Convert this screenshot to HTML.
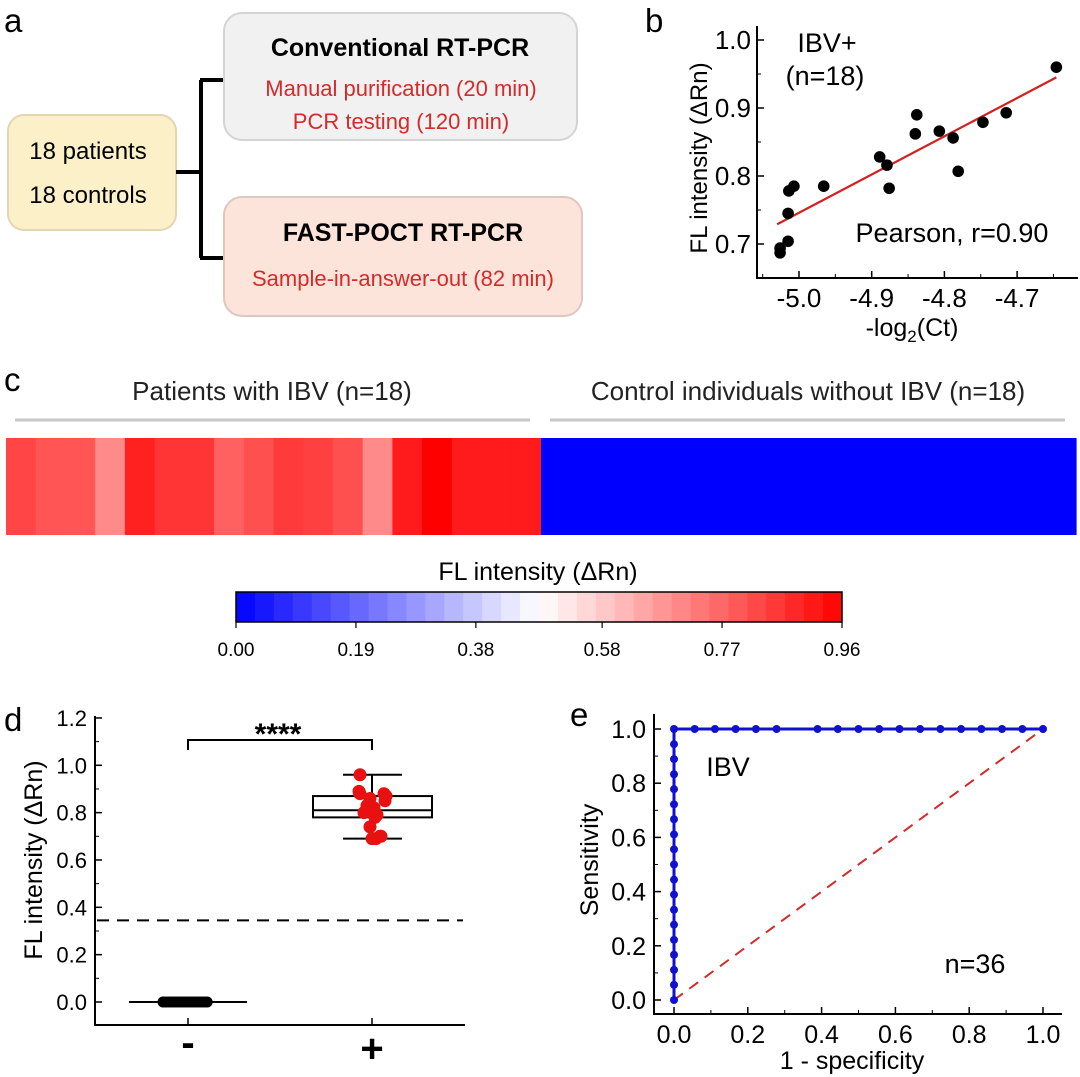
<!DOCTYPE html>
<html><head><meta charset="utf-8"><style>
html,body{margin:0;padding:0;background:#fff;}
svg{display:block;font-family:"Liberation Sans",Arial,sans-serif;}
</style></head><body>
<svg id="fig" width="1080" height="1077" viewBox="0 0 1080 1077" xmlns="http://www.w3.org/2000/svg">
<g>
<text x="4" y="32" font-size="33">a</text>
<rect x="8" y="115" width="168" height="115" rx="16" fill="#fcf0c8" stroke="#e2d6b4" stroke-width="2"/>
<text x="88" y="159" font-size="24" text-anchor="middle">18 patients</text>
<text x="88" y="203" font-size="24" text-anchor="middle">18 controls</text>
<path d="M176 172 H201 M201 80 V258 M200 80 H224 M200 258 H224" stroke="#000" stroke-width="4" fill="none"/>
<rect x="224" y="13" width="353" height="127" rx="18" fill="#f1f1f1" stroke="#d4d4d4" stroke-width="2"/>
<text x="400" y="56" font-size="25" font-weight="bold" text-anchor="middle">Conventional RT-PCR</text>
<text x="401" y="96" font-size="22" fill="#d42a2a" text-anchor="middle">Manual purification (20 min)</text>
<text x="401" y="129" font-size="22" fill="#d42a2a" text-anchor="middle">PCR testing (120 min)</text>
<rect x="224" y="197" width="358" height="119" rx="18" fill="#fde4da" stroke="#dcc8c0" stroke-width="2"/>
<text x="403" y="241" font-size="25" font-weight="bold" text-anchor="middle">FAST-POCT RT-PCR</text>
<text x="403" y="286" font-size="22" fill="#d42a2a" text-anchor="middle">Sample-in-answer-out (82 min)</text>
</g>
<text x="645" y="32" font-size="33">b</text>
<g id="pb"></g>
<text x="4" y="391" font-size="33">c</text>
<g id="pc"></g>
<text x="4" y="731" font-size="33">d</text>
<g id="pd"></g>
<text x="570" y="726" font-size="33">e</text>
<g id="pe"></g>
</svg>
<script>
// Panel b data
const bX = [-5.026,-5.026,-5.015,-5.015,-5.014,-5.007,-4.966,-4.889,-4.879,-4.876,-4.840,-4.838,-4.807,-4.788,-4.781,-4.747,-4.715,-4.646];
const bY = [0.687,0.694,0.704,0.745,0.778,0.785,0.785,0.828,0.816,0.782,0.862,0.890,0.866,0.856,0.807,0.879,0.893,0.960];
const bFitX = [-5.03,-4.646];
const bFitY = [0.729,0.945];
const bXTicks = [-5.0,-4.9,-4.8,-4.7];
const bYTicks = [0.7,0.8,0.9,1.0];
// Panel c data
const cPatients = [0.83,0.80,0.80,0.70,0.90,0.86,0.86,0.78,0.81,0.85,0.84,0.81,0.70,0.91,0.96,0.91,0.91,0.91];
const cControls = [0,0,0,0,0,0,0,0,0,0,0,0,0,0,0,0,0,0];
const cBarTicks = ["0.00","0.19","0.38","0.58","0.77","0.96"];
// Panel d data
const dNeg = [0,0,0,0,0,0,0,0,0,0,0,0,0,0,0,0,0,0];
const dPos = [0.96,0.89,0.88,0.87,0.86,0.88,0.83,0.82,0.81,0.79,0.78,0.74,0.70,0.69,0.69,0.70,0.85,0.80];
const dBox = {q1:0.78, med:0.81, q3:0.87, lo:0.69, hi:0.96};
const dCutoff = 0.345;
const dYTicks = [0.0,0.2,0.4,0.6,0.8,1.0,1.2];
// Panel e data
const eFpr = [0,0,0,0,0,0,0,0,0,0,0,0,0,0,0,0,0,0,0,0.056,0.111,0.167,0.222,0.278,0.389,0.444,0.5,0.556,0.611,0.667,0.722,0.778,0.833,0.889,0.944,1.0];
const eTpr = [0,0.056,0.111,0.167,0.222,0.278,0.333,0.389,0.444,0.5,0.556,0.611,0.667,0.722,0.778,0.833,0.889,0.944,1,1,1,1,1,1,1,1,1,1,1,1,1,1,1,1,1,1];
const eTicks = [0,0.2,0.4,0.6,0.8,1.0];

const NS="http://www.w3.org/2000/svg";
function mk(parent,tag,attrs,text){const e=document.createElementNS(NS,tag);for(const k in attrs)e.setAttribute(k,attrs[k]);if(text!==undefined)e.textContent=text;parent.appendChild(e);return e;}

// ---------- Panel b ----------
(function(){
const g=document.getElementById('pb');
const xs=v=>799+(v+5.0)*727, ys=v=>244-(v-0.7)*680;
let e=mk(g,'path',{d:'M757 26 V278 H1078',stroke:'#000','stroke-width':2,fill:'none'});

bYTicks.forEach(t=>{mk(g,'line',{x1:757,x2:764,y1:ys(t),y2:ys(t),stroke:'#000','stroke-width':1.5});
 const l=mk(g,'text',{x:751,y:ys(t)+9,'font-size':26,'text-anchor':'end'},t.toFixed(1));
 
 if(t<1.0)mk(g,'line',{x1:757,x2:761,y1:ys(t+0.05),y2:ys(t+0.05),stroke:'#000','stroke-width':1});});
mk(g,'line',{x1:757,x2:761,y1:ys(0.65),y2:ys(0.65),stroke:'#000','stroke-width':1});
bXTicks.forEach(t=>{mk(g,'line',{x1:xs(t),x2:xs(t),y1:278,y2:271,stroke:'#000','stroke-width':1.5});
 mk(g,'line',{x1:xs(t-0.05),x2:xs(t-0.05),y1:278,y2:274,stroke:'#000','stroke-width':1});
 const l=mk(g,'text',{x:xs(t),y:307,'font-size':26,'text-anchor':'middle'},t.toFixed(1));
 });
mk(g,'line',{x1:xs(-4.65),x2:xs(-4.65),y1:278,y2:274,stroke:'#000','stroke-width':1});
e=mk(g,'text',{x:912,y:336,'font-size':25,'text-anchor':'middle'});
e.innerHTML='-log<tspan font-size="17" dy="6">2</tspan><tspan dy="-6">(Ct)</tspan>';

e=mk(g,'text',{x:0,y:0,'font-size':24,'text-anchor':'middle',transform:'translate(707,158) rotate(-90)'},'FL intensity (ΔRn)');

e=mk(g,'text',{x:827,y:52,'font-size':27,'text-anchor':'middle'},'IBV+');

e=mk(g,'text',{x:825,y:85,'font-size':27,'text-anchor':'middle'},'(n=18)');

e=mk(g,'text',{x:952,y:242,'font-size':27,'text-anchor':'middle'},'Pearson, r=0.90');

e=mk(g,'line',{x1:xs(bFitX[0]),y1:ys(bFitY[0]),x2:xs(bFitX[1]),y2:ys(bFitY[1]),stroke:'#d42020','stroke-width':2.2});

bX.forEach((x,i)=>{const c=mk(g,'circle',{cx:xs(x),cy:ys(bY[i]),r:5.8,fill:'#000'});
 });
})();

// ---------- Panel c ----------
(function(){
const g=document.getElementById('pc');
function col(v){const m=0.48;let r,gg,b;
 if(v>=m){const t=Math.min(1,(v-m)/(0.96-m));r=255;gg=b=Math.round(255*(1-t));}
 else{const t=v/m;b=255;r=gg=Math.round(255*t);}
 return `rgb(${r},${gg},${b})`;}
let e=mk(g,'text',{x:272,y:400,'font-size':26,'text-anchor':'middle',fill:'#222'},'Patients with IBV (n=18)');

e=mk(g,'text',{x:808,y:400,'font-size':26,'text-anchor':'middle',fill:'#222'},'Control individuals without IBV (n=18)');

e=mk(g,'line',{x1:15,x2:530,y1:420,y2:420,stroke:'#c8c8c8','stroke-width':3});

e=mk(g,'line',{x1:550,x2:1065,y1:420,y2:420,stroke:'#c8c8c8','stroke-width':3});

const all=cPatients.concat(cControls);const x0=6,w=(1076-6)/all.length;
all.forEach((v,i)=>{const r=mk(g,'rect',{x:x0+i*w,y:438,width:w+0.6,height:97,fill:col(v)});
 });
e=mk(g,'text',{x:538,y:580,'font-size':25,'text-anchor':'middle'},'FL intensity (ΔRn)');

const n=32,bx=236,bw=606;
for(let i=0;i<n;i++){const v=0.96*(i+0.5)/n;const r=mk(g,'rect',{x:bx+i*bw/n,y:592,width:bw/n+0.5,height:30,fill:col(v)});
 }
e=mk(g,'rect',{x:bx,y:592,width:bw,height:30,fill:'none',stroke:'#000','stroke-width':1.5});

cBarTicks.forEach((t,i)=>{const x=bx+bw*parseFloat(t)/0.96;
 mk(g,'line',{x1:x,x2:x,y1:622,y2:628,stroke:'#000','stroke-width':1.2});
 const l=mk(g,'text',{x:x,y:656,'font-size':19,'text-anchor':'middle'},t);
 });
})();

// ---------- Panel d ----------
(function(){
const g=document.getElementById('pd');
const ys=v=>1002-v*236.7;const cx={neg:188,pos:372};
let e=mk(g,'path',{d:'M95 716 V1025 H465',stroke:'#000','stroke-width':2,fill:'none'});

dYTicks.forEach(t=>{mk(g,'line',{x1:95,x2:102,y1:ys(t),y2:ys(t),stroke:'#000','stroke-width':1.5});
 if(t<1.2)mk(g,'line',{x1:95,x2:99,y1:ys(t+0.1),y2:ys(t+0.1),stroke:'#000','stroke-width':1});
 const l=mk(g,'text',{x:87,y:ys(t)+8,'font-size':22,'text-anchor':'end'},t.toFixed(1));
 });
[cx.neg,cx.pos].forEach(x=>mk(g,'line',{x1:x,x2:x,y1:1025,y2:1018,stroke:'#000','stroke-width':1.5}));
e=mk(g,'text',{x:cx.neg,y:1056,'font-size':40,'font-weight':'bold','text-anchor':'middle'},'-');

e=mk(g,'text',{x:cx.pos,y:1062,'font-size':40,'font-weight':'bold','text-anchor':'middle'},'+');

e=mk(g,'text',{x:0,y:0,'font-size':25,'text-anchor':'middle',transform:'translate(42,860) rotate(-90)'},'FL intensity (ΔRn)');

e=mk(g,'line',{x1:97,x2:463,y1:ys(dCutoff),y2:ys(dCutoff),stroke:'#000','stroke-width':2,'stroke-dasharray':'12 8'});

e=mk(g,'path',{d:`M${cx.neg} 750 V740 H${cx.pos} V750`,stroke:'#000','stroke-width':2,fill:'none'});

e=mk(g,'text',{x:278,y:744,'font-size':30,'font-weight':'bold','text-anchor':'middle'},'****');

e=mk(g,'line',{x1:129,x2:247,y1:ys(0),y2:ys(0),stroke:'#000','stroke-width':2});

dNeg.forEach((v,i)=>{const c=mk(g,'circle',{cx:163+i*2.6,cy:ys(v),r:5.5,fill:'#000'});
 });
e=mk(g,'line',{x1:cx.pos,x2:cx.pos,y1:ys(dBox.hi),y2:ys(dBox.lo),stroke:'#000','stroke-width':2});

e=mk(g,'rect',{x:313,y:ys(dBox.q3),width:119,height:ys(dBox.q1)-ys(dBox.q3),fill:'#fff',stroke:'#000','stroke-width':2});

e=mk(g,'line',{x1:313,x2:432,y1:ys(dBox.med),y2:ys(dBox.med),stroke:'#000','stroke-width':2});

[dBox.hi,dBox.lo].forEach(v=>{const l=mk(g,'line',{x1:343,x2:402,y1:ys(v),y2:ys(v),stroke:'#000','stroke-width':2});
 });
const jit=[-12,-13,12,14,-2,-12,-5,2,-6,5,3,-2,8,4,0,9,13,-8];
dPos.forEach((v,i)=>{const c=mk(g,'circle',{cx:cx.pos+jit[i],cy:ys(v),r:6.5,fill:'#e81010'});
 });
})();

// ---------- Panel e ----------
(function(){
const g=document.getElementById('pe');
const xs=v=>674+v*369, ys=v=>1000-v*271;
let e=mk(g,'path',{d:'M654 714 V1014 H1062',stroke:'#000','stroke-width':2,fill:'none'});

eTicks.forEach(t=>{
 mk(g,'line',{x1:654,x2:661,y1:ys(t),y2:ys(t),stroke:'#000','stroke-width':1.5});
 if(t<1)mk(g,'line',{x1:654,x2:658,y1:ys(t+0.1),y2:ys(t+0.1),stroke:'#000','stroke-width':1});
 let l=mk(g,'text',{x:646,y:ys(t)+9,'font-size':25,'text-anchor':'end'},t.toFixed(1));
 
 mk(g,'line',{x1:xs(t),x2:xs(t),y1:1014,y2:1007,stroke:'#000','stroke-width':1.5});
 if(t<1)mk(g,'line',{x1:xs(t+0.1),x2:xs(t+0.1),y1:1014,y2:1010,stroke:'#000','stroke-width':1});
 l=mk(g,'text',{x:xs(t),y:1043,'font-size':25,'text-anchor':'middle'},t.toFixed(1));
 });
e=mk(g,'text',{x:852,y:1069,'font-size':25,'text-anchor':'middle'},'1 - specificity');

e=mk(g,'text',{x:0,y:0,'font-size':25,'text-anchor':'middle',transform:'translate(598,860) rotate(-90)'},'Sensitivity');

e=mk(g,'line',{x1:xs(0),y1:ys(0),x2:xs(1),y2:ys(1),stroke:'#d42a2a','stroke-width':2,'stroke-dasharray':'11 8'});

e=mk(g,'polyline',{points:eFpr.map((x,i)=>xs(x)+','+ys(eTpr[i])).join(' '),stroke:'#1010d0','stroke-width':3,fill:'none'});

eFpr.forEach((x,i)=>{const c=mk(g,'circle',{cx:xs(x),cy:ys(eTpr[i]),r:4,fill:'#1010d0'});
 });
e=mk(g,'text',{x:728,y:776,'font-size':27,'text-anchor':'middle'},'IBV');

e=mk(g,'text',{x:975,y:973,'font-size':27,'text-anchor':'middle'},'n=36');

})();
</script>
</body></html>
